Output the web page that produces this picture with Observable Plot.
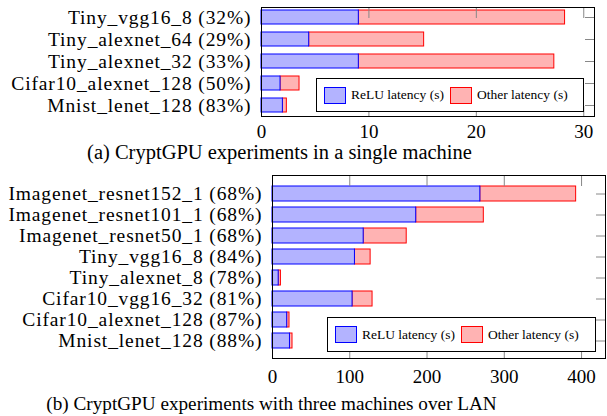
<!DOCTYPE html>
<html><head><meta charset="utf-8">
<script src="https://cdn.jsdelivr.net/npm/d3@7"></script>
<script src="https://cdn.jsdelivr.net/npm/@observablehq/plot@0.6"></script>
<style>
body{margin:0;background:#fff;}
#wrap{position:relative;width:607px;height:416px;font-family:"Liberation Serif","Times New Roman",serif;color:#000;overflow:hidden;}
.chart{position:absolute;left:0;}
.chart svg{overflow:visible;}
.chart svg g[aria-label="y-axis tick label"] text{letter-spacing:0.88px;}
.cap{position:absolute;width:600px;text-align:center;white-space:nowrap;}
.legend{position:absolute;background:#fff;border:1px solid #000;box-sizing:border-box;display:flex;align-items:center;font-size:13.5px;white-space:nowrap;padding-left:7px;}
.sw{display:inline-block;width:22px;height:17px;box-sizing:border-box;border:1.3px solid;}
</style></head><body><div id="wrap"></div>
<script>
// Chart (a): CryptGPU in a single machine
const labelsA = ["Tiny_vgg16_8 (32%)","Tiny_alexnet_64 (29%)","Tiny_alexnet_32 (33%)","Cifar10_alexnet_128 (50%)","Mnist_lenet_128 (83%)"];
const reluA  = [9.06, 4.44, 9.06, 1.77, 1.99];
const otherA = [19.2, 10.7, 18.2, 1.77, 0.37];
const xTicksA = [0, 10, 20, 30];
const captionA = "(a) CryptGPU experiments in a single machine";

// Chart (b): CryptGPU with three machines over LAN
const labelsB = ["Imagenet_resnet152_1 (68%)","Imagenet_resnet101_1 (68%)","Imagenet_resnet50_1 (68%)","Tiny_vgg16_8 (84%)","Tiny_alexnet_8 (78%)","Cifar10_vgg16_32 (81%)","Cifar10_alexnet_128 (87%)","Mnist_lenet_128 (88%)"];
const reluB  = [269, 186, 118, 106.7, 8, 103.6, 19, 22.6];
const otherB = [124, 87.5, 55.7, 20.3, 2.9, 25.9, 3, 3.3];
const xTicksB = [0, 100, 200, 300, 400];
const captionB = "(b) CryptGPU experiments with three machines over LAN";

const seriesNames = ["ReLU latency (s)", "Other latency (s)"];
const fills = ["#b3b3ff", "#ffb3b3"];
const strokes = ["#0000ff", "#ff0000"];

const wrap = document.getElementById("wrap");

function makeChart(o) {
  const svg = Plot.plot({
    width: 607, height: o.height,
    marginTop: o.marginTop, marginBottom: o.marginBottom,
    marginLeft: o.marginLeft, marginRight: o.marginRight,
    style: {fontFamily: '"Liberation Serif", serif', fontSize: "19px", color: "#000", background: "transparent"},
    x: {domain: [0, o.xMax], ticks: o.xTicks},
    y: {domain: o.labels, paddingInner: o.pI, paddingOuter: o.pO},
    marks: [
      Plot.barX(o.labels, {y: d => d, x1: (d, i) => o.relu[i], x2: (d, i) => o.relu[i] + o.other[i], fill: fills[1], stroke: strokes[1], strokeWidth: 1}),
      Plot.barX(o.labels, {y: d => d, x: (d, i) => o.relu[i], fill: fills[0], stroke: strokes[0], strokeWidth: 1}),
      Plot.axisX({ticks: o.xTicks, anchor: "bottom", tickSize: 10, dy: -10, fill: "none", stroke: "#888", label: null}),
      Plot.axisX({ticks: o.xTicks, anchor: "top", tickSize: 10, dy: 10, fill: "none", stroke: "#888", label: null}),
      Plot.axisX({ticks: o.xTicks, anchor: "bottom", tickSize: 0, tickPadding: o.xPad, label: null, fontSize: 19}),
      Plot.axisY({anchor: "right", tickSize: 10, dx: -10, fill: "none", stroke: "#888", label: null}),
      Plot.axisY({anchor: "left", tickSize: 0, tickPadding: 10, label: null, fontSize: 19.5}),
      Plot.frame({stroke: "#000", strokeWidth: 1})
    ]
  });
  const div = document.createElement("div");
  div.className = "chart";
  div.style.top = o.top + "px";
  div.appendChild(svg);
  wrap.appendChild(div);

  const lg = document.createElement("div");
  lg.className = "legend";
  Object.assign(lg.style, {left: o.lg[0] + "px", top: o.lg[1] + "px", width: o.lg[2] + "px", height: o.lg[3] + "px"});
  seriesNames.forEach((name, i) => {
    const sw = document.createElement("span");
    sw.className = "sw";
    sw.style.background = fills[i];
    sw.style.borderColor = strokes[i];
    if (i > 0) sw.style.marginLeft = "6px";
    const t = document.createElement("span");
    t.textContent = name;
    t.style.marginLeft = "5px";
    lg.appendChild(sw); lg.appendChild(t);
  });
  wrap.appendChild(lg);

  const cap = document.createElement("div");
  cap.className = "cap";
  cap.textContent = o.caption;
  cap.style.fontSize = o.capSize + "px";
  cap.style.lineHeight = o.capSize + "px";
  cap.style.left = (o.capCenter - 300) + "px";
  cap.style.top = o.capTop + "px";
  wrap.appendChild(cap);
}

makeChart({labels: labelsA, relu: reluA, other: otherA, xTicks: xTicksA, xMax: 31,
  top: 0, height: 145, marginTop: 7, marginBottom: 29, marginLeft: 261, marginRight: 13,
  pI: 0.35, pO: 0.1, xPad: 8, lg: [316, 78, 268, 34], caption: captionA, capSize: 20.5, capCenter: 279.5, capTop: 141.5});

makeChart({labels: labelsB, relu: reluB, other: otherB, xTicks: xTicksB, xMax: 431,
  top: 168, height: 220, marginTop: 7, marginBottom: 30, marginLeft: 272, marginRight: 2,
  pI: 0.3, pO: 0.35, xPad: 10.5, lg: [327, 317, 269, 35], caption: captionB, capSize: 19.2, capCenter: 271.5, capTop: 393.5});
</script>
</body></html>
